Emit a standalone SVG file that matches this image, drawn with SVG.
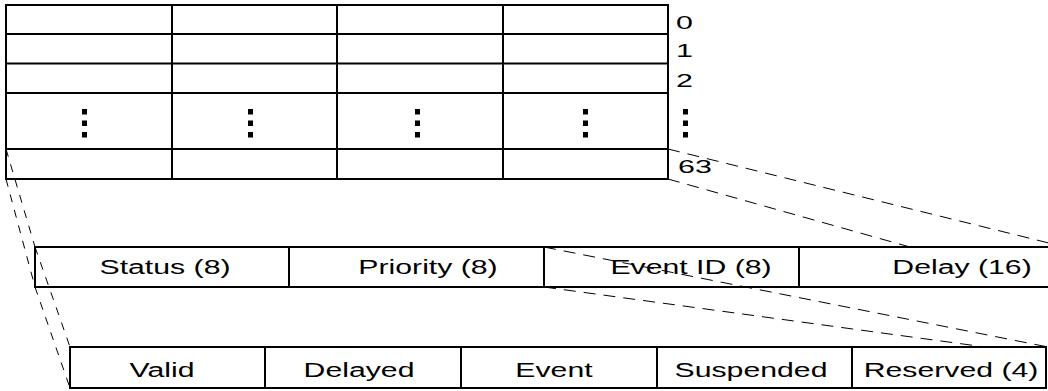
<svg xmlns="http://www.w3.org/2000/svg" width="1048" height="391" viewBox="0 0 1048 391">
  <style>
    .cell { fill: #fff; stroke: #000; stroke-width: 2; }
    .rule { fill: none; stroke: #000; stroke-width: 2; }
    .lbl { font-family: "Liberation Sans", Arial, sans-serif; font-size: 21px; fill: #000; text-anchor: middle; }
    .num { font-family: "Liberation Sans", Arial, sans-serif; font-size: 19px; fill: #000; }
    .dash { fill: none; stroke: #000; stroke-width: 1; }
    .steep { stroke-dasharray: 8 8; }
    .flat { stroke-dasharray: 12 8; }
  </style>
  <defs>
    <!-- vertical ellipsis made of three square dots -->
    <g id="vdots">
      <rect x="0" y="0" width="5" height="5.5" fill="#000"/>
      <rect x="0" y="11.5" width="5" height="5.5" fill="#000"/>
      <rect x="0" y="23" width="5" height="5.5" fill="#000"/>
    </g>
  </defs>

  <rect width="1048" height="391" fill="#fff"/>

  <!-- 64-entry table -->
  <g id="entry-table">
    <rect class="cell" x="6" y="5" width="662" height="174"/>
    <line class="rule" x1="6" y1="34" x2="668" y2="34"/>
    <line class="rule" x1="6" y1="63.5" x2="668" y2="63.5"/>
    <line class="rule" x1="6" y1="93" x2="668" y2="93"/>
    <line class="rule" x1="6" y1="149" x2="668" y2="149"/>
    <line class="rule" x1="172" y1="5" x2="172" y2="179"/>
    <line class="rule" x1="337" y1="5" x2="337" y2="179"/>
    <line class="rule" x1="503" y1="5" x2="503" y2="179"/>
    <use href="#vdots" x="82" y="109"/>
    <use href="#vdots" x="248" y="109"/>
    <use href="#vdots" x="415" y="109"/>
    <use href="#vdots" x="583" y="109"/>
    <use href="#vdots" x="683" y="109"/>
    <text class="num" transform="matrix(1.6 0 0 1 676 28.5)">0</text>
    <text class="num" transform="matrix(1.6 0 0 1 676 57)">1</text>
    <text class="num" transform="matrix(1.6 0 0 1 676 87)">2</text>
    <text class="num" transform="matrix(1.6 0 0 1 678 173)">63</text>
  </g>

  <!-- 32-bit entry layout -->
  <g id="entry-fields">
    <rect class="cell" x="35" y="247" width="1030" height="40"/>
    <line class="rule" x1="289" y1="247" x2="289" y2="287"/>
    <line class="rule" x1="544" y1="247" x2="544" y2="287"/>
    <line class="rule" x1="799" y1="247" x2="799" y2="287"/>
    <text class="lbl" transform="matrix(1.44 0 0 1 165 273.5)">Status (8)</text>
    <text class="lbl" transform="matrix(1.44 0 0 1 428 273.5)">Priority (8)</text>
    <text class="lbl" transform="matrix(1.44 0 0 1 691 273.5)">Event ID (8)</text>
    <text class="lbl" transform="matrix(1.44 0 0 1 962 273.5)">Delay (16)</text>
  </g>

  <!-- status byte flags -->
  <g id="status-flags">
    <rect class="cell" x="70" y="347" width="976" height="41"/>
    <line class="rule" x1="265" y1="347" x2="265" y2="388"/>
    <line class="rule" x1="461" y1="347" x2="461" y2="388"/>
    <line class="rule" x1="657" y1="347" x2="657" y2="388"/>
    <line class="rule" x1="852" y1="347" x2="852" y2="388"/>
    <text class="lbl" transform="matrix(1.44 0 0 1 162 377)">Valid</text>
    <text class="lbl" transform="matrix(1.44 0 0 1 359 377)">Delayed</text>
    <text class="lbl" transform="matrix(1.44 0 0 1 554 377)">Event</text>
    <text class="lbl" transform="matrix(1.44 0 0 1 751 377)">Suspended</text>
    <text class="lbl" transform="matrix(1.44 0 0 1 951 377)">Reserved (4)</text>
  </g>

  <!-- dashed projection lines -->
  <g id="connectors">
    <path class="dash steep" d="M6,149 L35,247"/>
    <path class="dash steep" d="M6,179 L35,287"/>
    <path class="dash flat" d="M668,149 L1065,247"/>
    <path class="dash flat" d="M668,179 L910,247"/>
    <path class="dash steep" d="M35,247 L70,347"/>
    <path class="dash steep" d="M35,287 L70,388"/>
    <path class="dash flat" d="M544,247 L1048,347"/>
    <path class="dash flat" d="M544,287 L985,347"/>
  </g>
</svg>
